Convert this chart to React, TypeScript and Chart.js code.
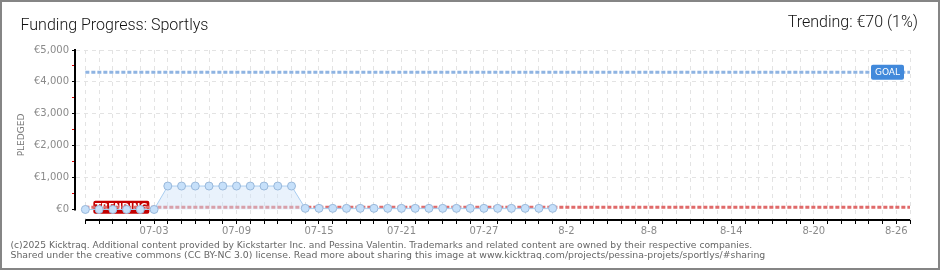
import React, { useEffect, useRef } from 'react';
import { Chart, registerables } from 'chart.js';

Chart.register(...registerables);

const titleText = 'Funding Progress: Sportlys';
const trendingText = 'Trending: €70 (1%)';
const footerLines = [
  '(c)2025 Kicktraq. Additional content provided by Kickstarter Inc. and Pessina Valentin. Trademarks and related content are owned by their respective companies.',
  'Shared under the creative commons (CC BY-NC 3.0) license. Read more about sharing this image at www.kicktraq.com/projects/pessina-projets/sportlys/#sharing',
];

const days = [
  '06-28', '06-29', '06-30', '07-01', '07-02', '07-03', '07-04', '07-05', '07-06', '07-07',
  '07-08', '07-09', '07-10', '07-11', '07-12', '07-13', '07-14', '07-15', '07-16', '07-17',
  '07-18', '07-19', '07-20', '07-21', '07-22', '07-23', '07-24', '07-25', '07-26', '07-27',
  '07-28', '07-29', '07-30', '07-31', '8-1', '8-2', '8-3', '8-4', '8-5', '8-6',
  '8-7', '8-8', '8-9', '8-10', '8-11', '8-12', '8-13', '8-14', '8-15', '8-16',
  '8-17', '8-18', '8-19', '8-20', '8-21', '8-22', '8-23', '8-24', '8-25', '8-26', '8-27',
];
const xTickLabels = ['07-03', '07-09', '07-15', '07-21', '07-27', '8-2', '8-8', '8-14', '8-20', '8-26'];

const pledged = [
  0, 0, 0, 0, 0, 0,
  735, 735, 735, 735, 735, 735, 735, 735, 735, 735,
  35, 35, 35, 35, 35, 35, 35, 35, 35, 35, 35, 35, 35, 35, 35, 35, 35, 35, 35,
];
const goal = 4300;
const trend = 70;

const yTickValues = [0, 500, 1000, 1500, 2000, 2500, 3000, 3500, 4000, 4500, 5000];
const yTickLabels = ['€0', '', '€1,000', '', '€2,000', '', '€3,000', '', '€4,000', '', '€5,000'];

const AXIS_FONT = "'DejaVu Sans', sans-serif";
const TITLE_FONT = "Roboto, 'Noto Sans', sans-serif";

function roundRect(ctx: CanvasRenderingContext2D, x: number, y: number, w: number, h: number, r: number) {
  ctx.beginPath();
  ctx.moveTo(x + r, y);
  ctx.lineTo(x + w - r, y);
  ctx.quadraticCurveTo(x + w, y, x + w, y + r);
  ctx.lineTo(x + w, y + h - r);
  ctx.quadraticCurveTo(x + w, y + h, x + w - r, y + h);
  ctx.lineTo(x + r, y + h);
  ctx.quadraticCurveTo(x, y + h, x, y + h - r);
  ctx.lineTo(x, y + r);
  ctx.quadraticCurveTo(x, y, x + r, y);
  ctx.closePath();
}

const decorPlugin = {
  id: 'decor',
  beforeDraw(chart: any) {
    const ctx = chart.ctx as CanvasRenderingContext2D;
    ctx.save();
    ctx.fillStyle = '#ffffff';
    ctx.fillRect(0, 0, chart.width, chart.height);
    ctx.restore();
  },
  beforeDatasetsDraw(chart: any) {
    const ctx = chart.ctx as CanvasRenderingContext2D;
    const xs = chart.scales.x;
    const ys = chart.scales.y;
    const area = chart.chartArea;
    ctx.save();
    // axis lines
    ctx.strokeStyle = '#000';
    ctx.lineWidth = 2;
    ctx.beginPath();
    ctx.moveTo(area.left - 1, ys.getPixelForValue(5000) - 1);
    ctx.lineTo(area.left - 1, ys.getPixelForValue(0) + 1);
    ctx.stroke();
    ctx.beginPath();
    ctx.moveTo(xs.getPixelForValue(0), area.bottom);
    ctx.lineTo(xs.getPixelForValue(days.length - 1), area.bottom);
    ctx.stroke();
    // trending label
    const ty = ys.getPixelForValue(trend);
    const tx = xs.getPixelForValue(0) + 8;
    ctx.fillStyle = '#c40000';
    roundRect(ctx, tx, ty - 6.5, 56, 13, 2);
    ctx.fill();
    ctx.fillStyle = '#ffffff';
    ctx.font = `bold 9px ${AXIS_FONT}`;
    ctx.textAlign = 'center';
    ctx.textBaseline = 'middle';
    ctx.fillText('TRENDING', tx + 28, ty + 0.5);
    ctx.restore();
  },
  afterDatasetsDraw(chart: any) {
    const ctx = chart.ctx as CanvasRenderingContext2D;
    const ys = chart.scales.y;
    const area = chart.chartArea;
    ctx.save();
    const gy = ys.getPixelForValue(goal);
    const gx = area.right - 39;
    ctx.fillStyle = '#4189db';
    roundRect(ctx, gx, gy - 7.5, 33, 15, 2);
    ctx.fill();
    ctx.fillStyle = '#ffffff';
    ctx.font = `9px ${AXIS_FONT}`;
    ctx.textAlign = 'center';
    ctx.textBaseline = 'middle';
    ctx.fillText('GOAL', gx + 16.5, gy + 0.5);
    ctx.restore();
  },
  afterDraw(chart: any) {
    const ctx = chart.ctx as CanvasRenderingContext2D;
    ctx.save();
    // title
    ctx.fillStyle = '#111';
    ctx.textBaseline = 'alphabetic';
    ctx.font = `300 16px ${TITLE_FONT}`;
    ctx.textAlign = 'left';
    ctx.fillText(titleText, 20.5, 30);
    ctx.textAlign = 'right';
    ctx.fillText(trendingText, 918, 27);
    // footer
    ctx.fillStyle = '#666';
    ctx.textAlign = 'left';
    const targets = [742, 755];
    const baselines = [247.5, 258];
    footerLines.forEach((line, i) => {
      ctx.font = `10px ${AXIS_FONT}`;
      const w = ctx.measureText(line).width;
      const size = (10 * targets[i]) / w;
      ctx.font = `${size.toFixed(2)}px ${AXIS_FONT}`;
      ctx.fillText(line, 10.5, baselines[i]);
    });
    // border
    ctx.strokeStyle = '#858585';
    ctx.lineWidth = 2;
    ctx.strokeRect(1, 1, chart.width - 2, chart.height - 2);
    ctx.restore();
  },
};

export default function App() {
  const canvasRef = useRef<HTMLCanvasElement | null>(null);

  useEffect(() => {
    document.body.style.margin = '0';
    const canvas = canvasRef.current;
    if (!canvas) return;
    const lastIdx = days.length - 1;
    const chart = new Chart(canvas, {
      type: 'line',
      data: {
        datasets: [
          {
            label: 'Pledged',
            data: pledged.map((v, i) => ({ x: i, y: v })),
            borderColor: '#a9cdf0',
            borderWidth: 1,
            backgroundColor: 'rgba(206,227,249,0.45)',
            fill: 'origin',
            pointRadius: 4,
            pointBorderWidth: 1,
            pointBackgroundColor: '#c6e0fa',
            pointBorderColor: '#9ab9db',
            tension: 0,
          },
          {
            label: 'Trend',
            data: [{ x: 0, y: trend }, { x: lastIdx, y: trend }],
            borderColor: '#e06a6a',
            borderWidth: 3,
            borderDash: [4, 2],
            pointRadius: 0,
            fill: false,
          },
          {
            label: 'Goal',
            data: [{ x: 0, y: goal }, { x: lastIdx, y: goal }],
            borderColor: '#8fb4e2',
            borderWidth: 3,
            borderDash: [4, 2],
            pointRadius: 0,
            fill: false,
          },
        ],
      },
      options: {
        responsive: false,
        animation: false,
        events: [],
        layout: { padding: { left: 10, right: 30, top: 50, bottom: 30 } },
        plugins: {
          legend: { display: false },
          tooltip: { enabled: false },
          title: { display: false },
        },
        scales: {
          x: {
            type: 'linear',
            min: -0.68,
            max: lastIdx,
            afterBuildTicks: (s: any) => {
              s.ticks = days.map((_, i) => ({ value: i }));
            },
            afterFit: (s: any) => {
              s.height = 20;
            },
            border: { display: false, dash: [4, 4] },
            grid: {
              color: '#e3e3e3',
              lineWidth: 1,
              tickLength: 4,
              tickColor: '#000',
              tickWidth: 1,
              tickBorderDash: [],
            },
            ticks: {
              autoSkip: false,
              maxRotation: 0,
              padding: 1,
              color: '#8a8a8a',
              font: { family: AXIS_FONT, size: 10 },
              callback: (v: any) => {
                const d = days[Math.round(Number(v))];
                return xTickLabels.includes(d) ? d : '';
              },
            },
          },
          y: {
            type: 'linear',
            min: -330,
            max: 5000,
            afterBuildTicks: (s: any) => {
              s.ticks = yTickValues.map((v) => ({ value: v }));
            },
            afterFit: (s: any) => {
              s.width = 66;
            },
            border: { display: false, dash: [4, 4] },
            grid: {
              color: (c: any) =>
                c.tick && c.tick.value > 0 && c.tick.value % 1000 === 0 ? '#e3e3e3' : 'rgba(0,0,0,0)',
              lineWidth: 1,
              tickLength: 4,
              tickWidth: 1,
              tickBorderDash: [],
              tickColor: (c: any) => (c.tick && c.tick.value % 1000 === 0 ? '#000' : '#e00000'),
            },
            ticks: {
              autoSkip: false,
              padding: 3,
              color: '#8a8a8a',
              font: { family: AXIS_FONT, size: 10 },
              callback: (v: any) => {
                const idx = yTickValues.indexOf(Number(v));
                return idx >= 0 ? yTickLabels[idx] : '';
              },
            },
            title: {
              display: true,
              text: 'PLEDGED',
              color: '#777',
              font: { family: AXIS_FONT, size: 9 },
              padding: { top: 6, bottom: 0 },
            },
          },
        },
      },
      plugins: [decorPlugin],
    } as any);
    return () => chart.destroy();
  }, []);

  return (
    <div style={{ width: 940, height: 270 }}>
      <canvas ref={canvasRef} width={940} height={270} style={{ display: 'block' }} />
    </div>
  );
}
